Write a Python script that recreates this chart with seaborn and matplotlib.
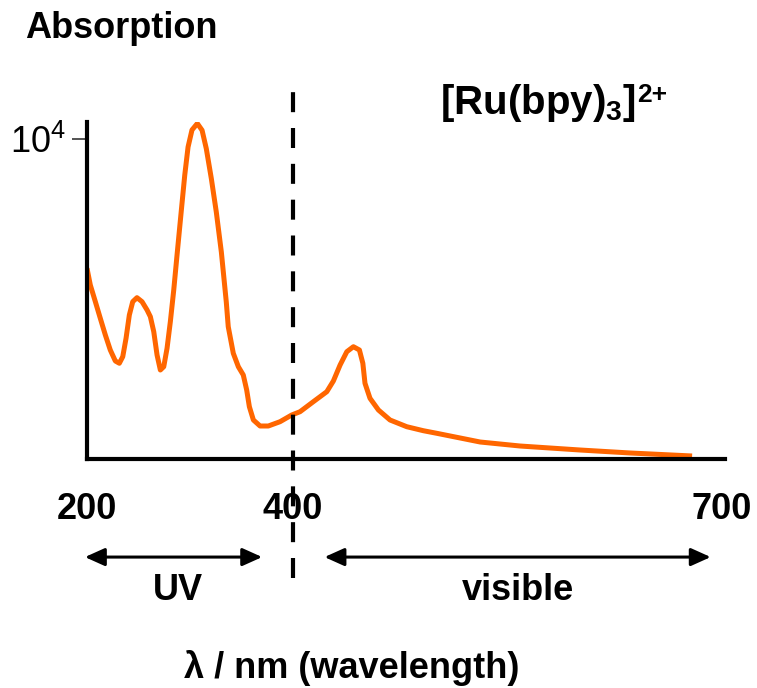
import numpy as np
import pandas as pd
import matplotlib
matplotlib.use("Agg")
import matplotlib.pyplot as plt
import matplotlib.transforms as mtransforms
import seaborn as sns

# ---- data ----
wavelength = [200, 203.2, 208.1, 212.9, 217.8, 222.6, 227.5, 231.4, 234.7, 237.9,
              241.1, 244.4, 248.5, 253.4, 258.3, 261.5, 264.8, 268, 271.2, 274.5,
              277.7, 280.9, 284.2, 287.4, 291.6, 294.9, 298.1, 301.9, 307.1, 311.7,
              315.8, 320.7, 325.5, 330.4, 335.2, 337.1, 342, 346.9, 351.7, 355,
              357.6, 361.5, 368, 376, 387.4, 398.7, 404.9, 414.2, 423.6, 428.2,
              432.9, 437.6, 442.2, 446.4, 448.8, 450.3, 453.8, 459.7, 467.8, 479.5,
              491.1, 500.5, 530.8, 558.7, 600.7, 635.7, 679]
absorption = [5959, 5438, 4916, 4397, 3875, 3406, 3063, 2991, 3197, 3772,
              4500, 4916, 5041, 4916, 4656, 4447, 3978, 3250, 2781, 2884,
              3459, 4291, 5281, 6375, 7781, 8875, 9750, 10281, 10484, 10272,
              9697, 8759, 7719, 6469, 4906, 4134, 3303, 2884, 2625, 2156,
              1634, 1219, 1031, 1031, 1166, 1375, 1478, 1791, 2103, 2438,
              2938, 3353, 3509, 3406, 2991, 2366, 1897, 1531, 1219, 1009,
              884, 803, 531, 406, 281, 188, 94]
xtick_values = [200, 400, 700]
xtick_labels = ["200", "400", "700"]
ytick_values = [10000]
ytick_labels = ["10$^4$"]
uv_vis_boundary = 400
uv_range = (198, 370)
vis_range = (422, 692)

df = pd.DataFrame({"wavelength": wavelength, "absorption": absorption})

sns.set_style("white")
plt.rcParams["font.family"] = ["Liberation Sans", "DejaVu Sans"]
plt.rcParams["mathtext.fontset"] = "custom"
plt.rcParams["mathtext.rm"] = "Liberation Sans"
plt.rcParams["mathtext.bf"] = "Liberation Sans:bold"
plt.rcParams["mathtext.it"] = "Liberation Sans:italic"
for k in ["text.color", "axes.labelcolor", "xtick.color", "ytick.color"]:
    plt.rcParams[k] = "black"

W, H = 757, 688
fig = plt.figure(figsize=(W / 100, H / 100), dpi=100)
ax = fig.add_axes([87 / W, 1 - 459 / H, (725 - 87) / W, (459 - 122) / H])


def fwd(w):
    w = np.asarray(w, dtype=float)
    return np.where(w <= 400, (w - 200) * 206 / 200, 206 + (w - 400) * 429 / 300)


def inv(x):
    x = np.asarray(x, dtype=float)
    return np.where(x <= 206, 200 + x * 200 / 206, 400 + (x - 206) * 300 / 429)


ax.set_xscale("function", functions=(fwd, inv))

sns.lineplot(data=df, x="wavelength", y="absorption", ax=ax, color="#FF6600",
             linewidth=3.6, sort=False, solid_joinstyle="round",
             solid_capstyle="butt", zorder=3)

ax.set_xlim(200, 702)
ax.set_ylim(0, 10530)

for side in ["top", "right"]:
    ax.spines[side].set_visible(False)
for side in ["left", "bottom"]:
    ax.spines[side].set_linewidth(3)
    ax.spines[side].set_color("black")
    ax.spines[side].set_zorder(4)

ax.set_xticks(xtick_values)
ax.set_xticklabels(xtick_labels, fontsize=26, fontweight="bold")
ax.tick_params(axis="x", length=0, pad=24, bottom=False)
ax.xaxis.set_minor_locator(matplotlib.ticker.NullLocator())
ax.set_yticks(ytick_values)
ax.set_yticklabels(ytick_labels, fontsize=26)
ax.tick_params(axis="y", left=True, length=11, width=1.3, color="#444444",
               pad=4, direction="out")
ax.set_xlabel("")
ax.set_ylabel("")

# dashed UV / visible boundary
ax.axvline(uv_vis_boundary, ymin=-0.353, ymax=1.095, clip_on=False,
           color="black", linewidth=3, linestyle=(0, (4.8, 3.8)), zorder=5)

# range arrows
trans = mtransforms.blended_transform_factory(ax.transData, ax.transAxes)
arrow_y = -0.291
for (a, b) in [uv_range, vis_range]:
    ax.annotate("", xy=(b, arrow_y), xytext=(a, arrow_y), xycoords=trans,
                textcoords=trans, annotation_clip=False,
                arrowprops=dict(arrowstyle="<|-|>,head_length=0.4,head_width=0.18",
                                color="black", lw=2.2,
                                mutation_scale=30, shrinkA=0, shrinkB=0))

ax.text(288, -0.389, "UV", transform=trans, ha="center", va="center",
        fontsize=26, fontweight="bold")
ax.text(557, -0.389, "visible", transform=trans, ha="center", va="center",
        fontsize=26, fontweight="bold")

fig.text(352 / W, 1 - 668 / H, "λ / nm (wavelength)", ha="center", va="center",
         fontsize=26, fontweight="bold")
fig.text(25 / W, 1 - 29 / H, "Absorption", ha="left", va="center",
         fontsize=26, fontweight="bold")
t = fig.text(440 / W, 1 - 114 / H, r"$\mathbf{[Ru(bpy)_3]}$", ha="left",
             va="baseline", fontsize=29)
ax.annotate("2+", xy=(1, 1), xycoords=t, xytext=(1, -1),
            textcoords="offset points", ha="left", va="top",
            fontsize=19, fontweight="bold", annotation_clip=False)

fig.savefig("out.png", dpi=100)
